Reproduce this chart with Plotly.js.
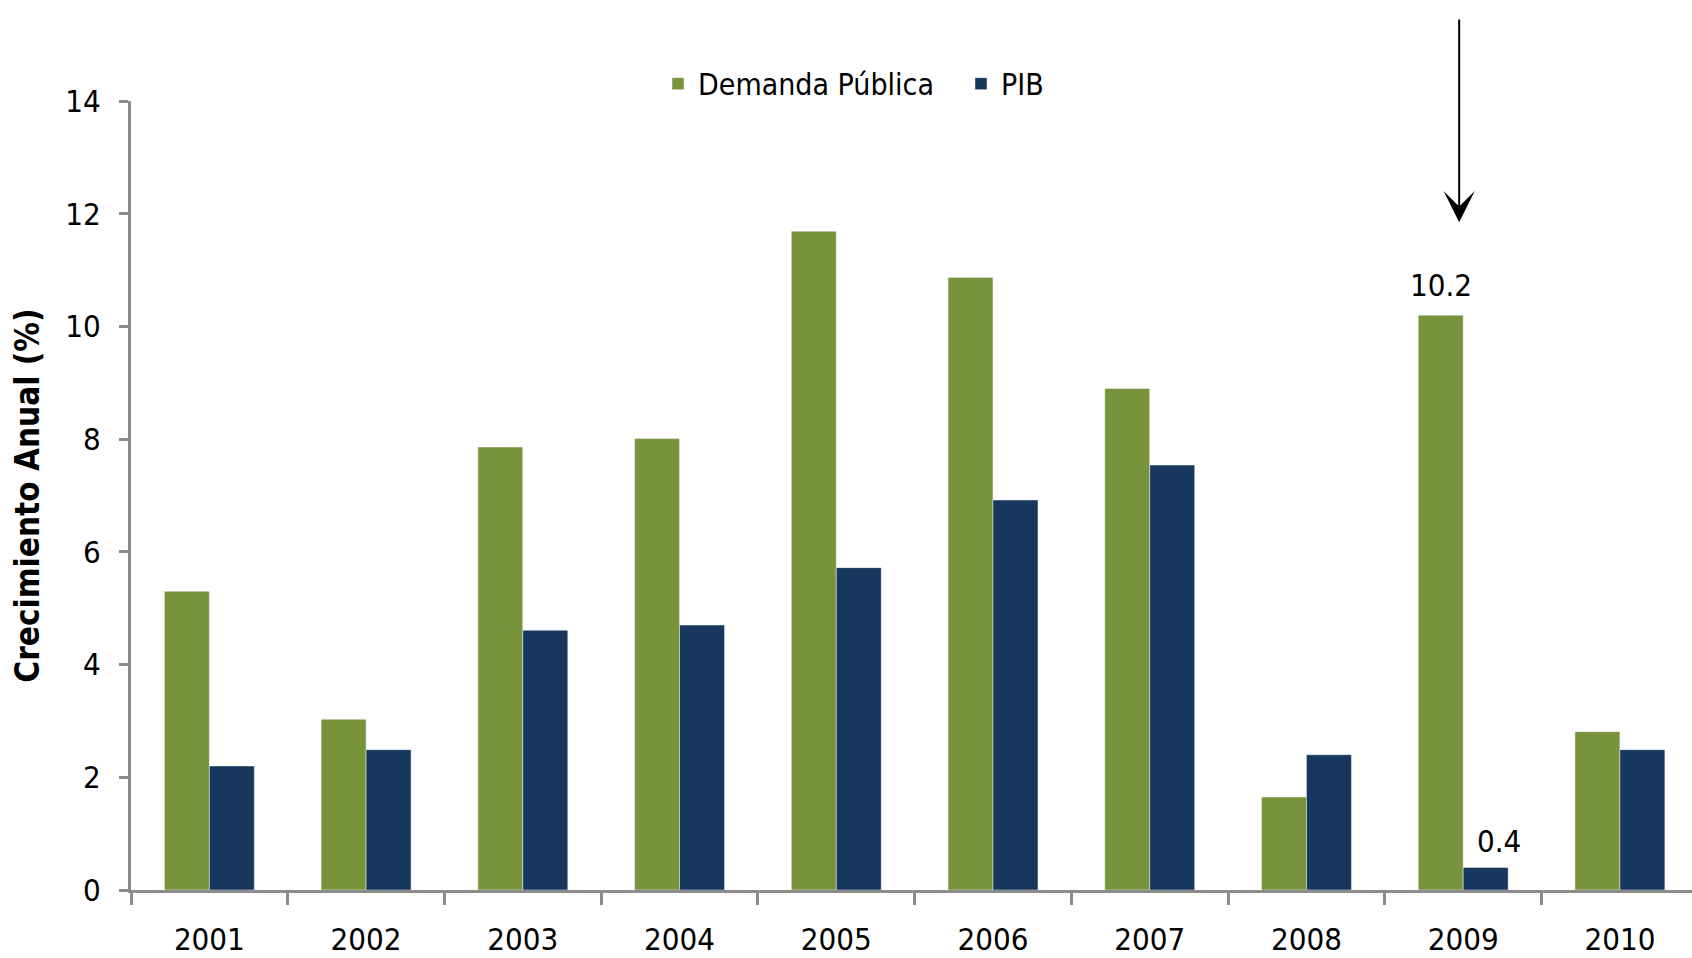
<!DOCTYPE html>
<html>
<head>
<meta charset="utf-8">
<script src="https://cdn.plot.ly/plotly-3.0.1.min.js"></script>
<style>
  html, body { margin: 0; padding: 0; background: #fff; }
  #chart { width: 1692px; height: 958px; }
</style>
</head>
<body>
<div id="chart"></div>
<script>
const years = ['2001','2002','2003','2004','2005','2006','2007','2008','2009','2010'];
const demandaPublica = [5.3, 3.03, 7.86, 8.01, 11.69, 10.87, 8.9, 1.65, 10.2, 2.81];
const pib = [2.2, 2.49, 4.61, 4.7, 5.72, 6.92, 7.54, 2.4, 0.4, 2.49];
const yTicks = [0, 2, 4, 6, 8, 10, 12, 14];

const FONT = '"DejaVu Sans Condensed", "DejaVu Sans", sans-serif';
const axisGrey = '#8c8c8c';

const data = [
  {
    type: 'bar',
    name: 'Demanda Pública',
    x: years,
    y: demandaPublica,
    marker: {color: '#77933c', line: {color: 'rgba(255,255,255,0.45)', width: 1}}
  },
  {
    type: 'bar',
    name: 'PIB',
    x: years,
    y: pib,
    marker: {color: '#17375e', line: {color: 'rgba(255,255,255,0.45)', width: 1}}
  }
];

// labels over the 2009 bars (category index used as x)
const i09 = years.indexOf('2009');
const annotations = [
  {xref: 'x', yref: 'y', x: i09, y: demandaPublica[i09], xshift: -22, yshift: 10, yanchor: 'bottom',
   text: demandaPublica[i09].toFixed(1), showarrow: false, font: {size: 31, color: '#000'}},
  {xref: 'x', yref: 'y', x: i09, y: pib[i09], xshift: 36, yshift: 6, yanchor: 'bottom',
   text: pib[i09].toFixed(1), showarrow: false, font: {size: 31, color: '#000'}},
  // arrow pointing down at 2009
  {xref: 'x', yref: 'y', x: i09, y: 11.85, xshift: -4, text: ' ', showarrow: true,
   arrowhead: 3, arrowsize: 2.6, arrowwidth: 2, arrowcolor: '#000',
   ax: 0, ay: -227, standoff: 0, startstandoff: 0}
];

const layout = {
  width: 1692,
  height: 958,
  margin: {l: 131, r: 0, t: 101, b: 68},
  paper_bgcolor: '#fff',
  plot_bgcolor: '#fff',
  font: {family: FONT, size: 31, color: '#000'},
  barmode: 'group',
  bargap: 0.426,
  bargroupgap: 0,
  showlegend: true,
  legend: {
    orientation: 'h',
    x: 0.3376, xanchor: 'left',
    y: 1.022, yanchor: 'middle',
    font: {size: 30},
    entrywidth: 258,
    itemclick: false
  },
  xaxis: {
    type: 'category',
    range: [-0.5, 9.46],
    tickson: 'boundaries',
    ticks: 'outside',
    ticklen: 12,
    tickwidth: 3,
    tickcolor: axisGrey,
    showline: true,
    linecolor: axisGrey,
    linewidth: 3,
    showgrid: false,
    ticklabelstandoff: 20,
    tickfont: {size: 31}
  },
  yaxis: {
    range: [0, 14],
    tickvals: yTicks,
    ticks: 'outside',
    ticklen: 9,
    tickwidth: 3,
    tickcolor: axisGrey,
    showline: true,
    linecolor: axisGrey,
    linewidth: 3,
    showgrid: false,
    zeroline: false,
    ticklabelstandoff: 12,
    tickfont: {size: 31},
    title: {
      text: '<b>Crecimiento Anual (%)</b>',
      font: {size: 33},
      standoff: 16
    }
  },
  annotations: annotations
};

Plotly.newPlot('chart', data, layout, {displayModeBar: false, staticPlot: true});
</script>
</body>
</html>
